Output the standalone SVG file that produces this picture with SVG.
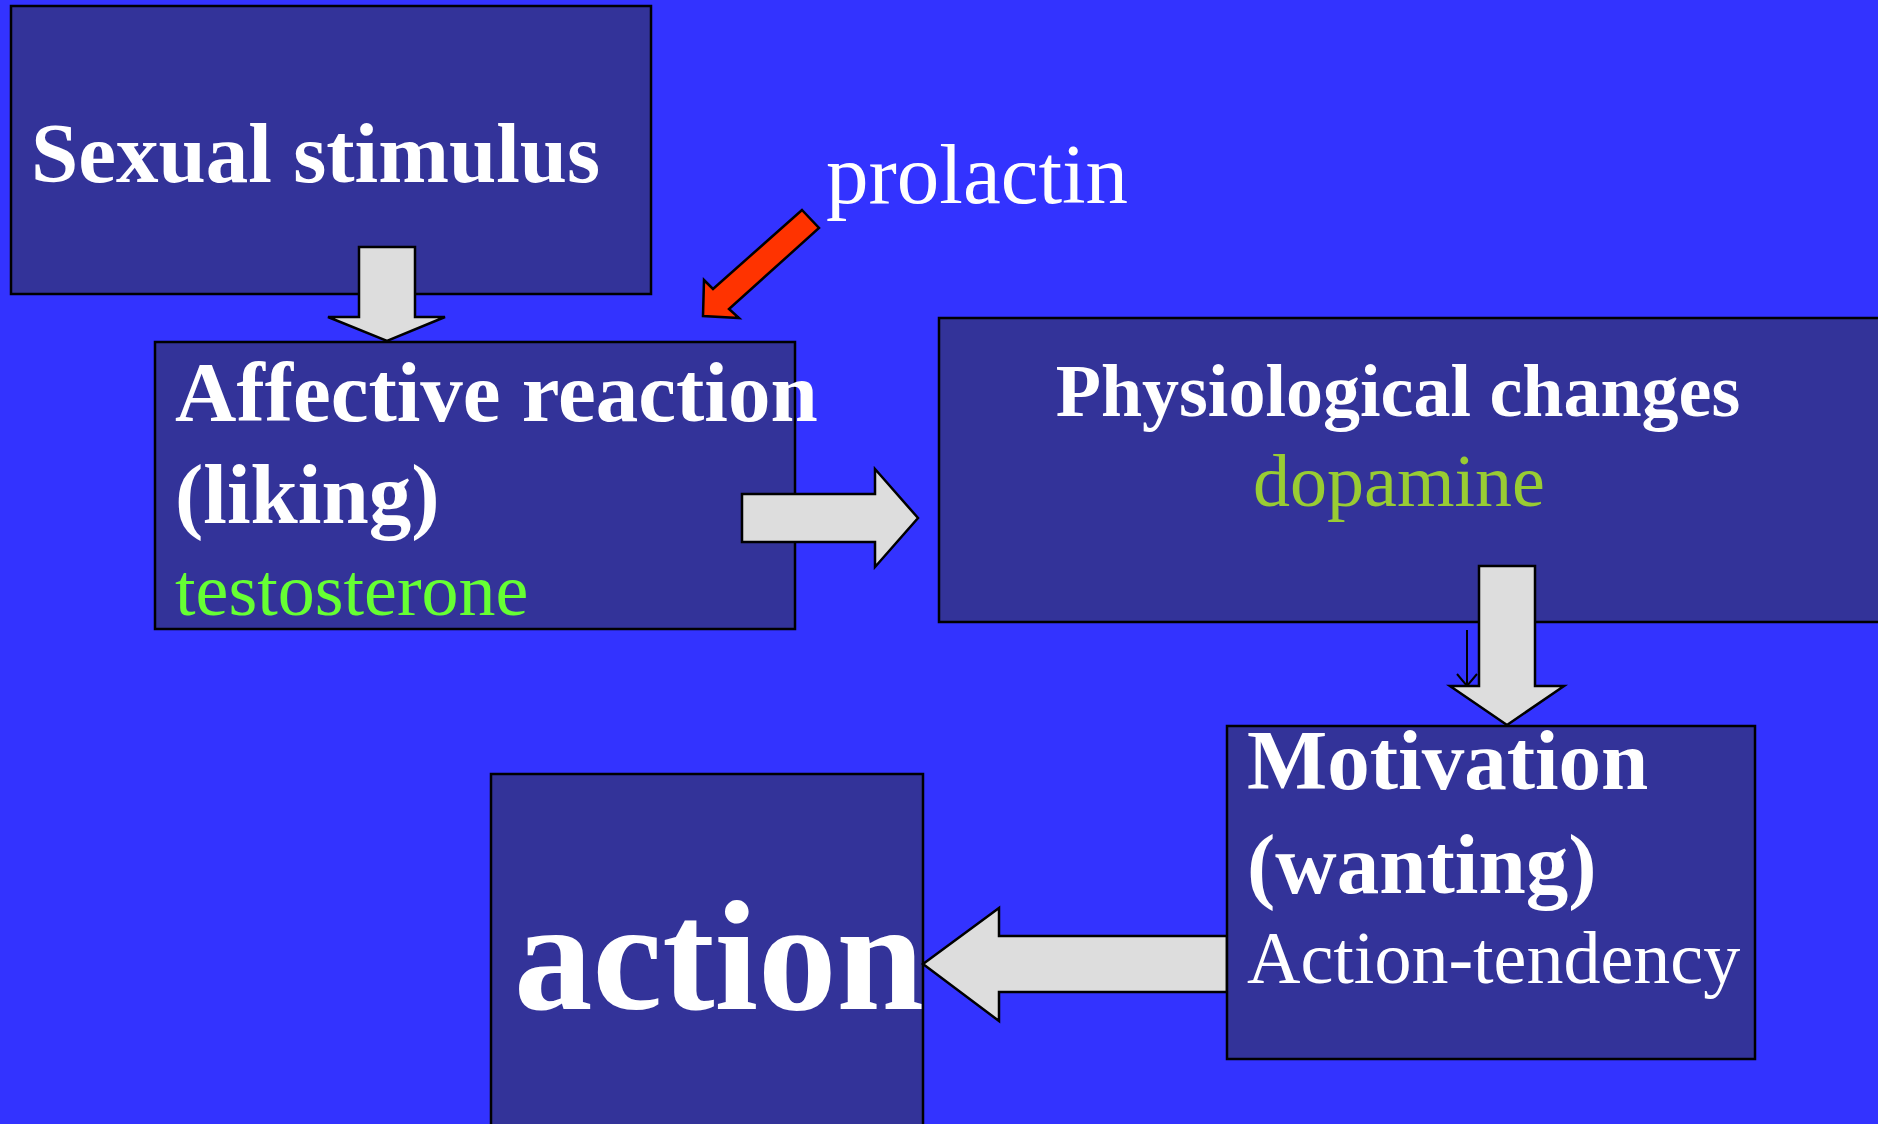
<svg xmlns="http://www.w3.org/2000/svg" width="1878" height="1124" viewBox="0 0 1878 1124">
  <style>
    .box { fill: #333399; stroke: #000000; stroke-width: 2.5; }
    .t { font-family: "Liberation Serif", "Times New Roman", serif; fill: #ffffff; }
    .b { font-weight: bold; }
    .big { font-size: 85px; }
    .mid { font-size: 74px; }
    .block { fill: #DDDDDD; stroke: #000000; stroke-width: 2.5; stroke-linejoin: miter; }
    .red { fill: #FF3300; stroke: #000000; stroke-width: 2.5; }
    .thin { fill: none; stroke: #000000; stroke-width: 2; }
  </style>
  <rect x="0" y="0" width="1878" height="1124" fill="#3333FF"/>

  <g id="sexual-stimulus">
    <rect class="box" x="11" y="6" width="640" height="288"/>
    <text class="t b big" x="31" y="182">Sexual stimulus</text>
  </g>

  <g id="affective-reaction">
    <rect class="box" x="155" y="342" width="640" height="287"/>
    <text class="t b big" x="175" y="421">Affective reaction</text>
    <text class="t b big" x="175" y="523">(liking)</text>
    <text class="t mid" x="175" y="615" style="fill:#66FF33">testosterone</text>
  </g>

  <g id="physiological-changes">
    <rect class="box" x="939" y="318" width="960" height="304"/>
    <text class="t b mid" x="1398" y="416" text-anchor="middle">Physiological changes</text>
    <text class="t mid" x="1399" y="506" text-anchor="middle" style="fill:#99CC33">dopamine</text>
  </g>

  <g id="action">
    <rect class="box" x="491" y="774" width="432" height="360"/>
    <text class="t b" x="514" y="1009" style="font-size:157px">action</text>
  </g>

  <g id="connectors">
    <polygon class="block" points="359,247 415,247 415,317 445,317 387,341 328,317 359,317"/>
    <polygon class="block" points="742,494 875,494 875,469 918,518 875,567 875,542 742,542"/>
    <line class="thin" x1="1467" y1="630" x2="1467" y2="685"/>
    <polyline class="thin" points="1457,674 1467,686 1477,674"/>
    <polygon class="block" points="1479,566 1535,566 1535,686 1564,686 1507,725 1450,686 1479,686"/>
    <polygon class="block" points="1227,936 999,936 999,908 923,964 999,1021 999,992 1227,992"/>
    <polygon class="red" points="802,210 819,228 729,309 739,318 703,316 704,280 713,289"/>
  </g>

  <g id="motivation">
    <rect class="box" x="1227" y="726" width="528" height="333"/>
    <text class="t b big" x="1247" y="789">Motivation</text>
    <text class="t b big" x="1247" y="893">(wanting)</text>
    <text class="t mid" x="1247" y="983">Action-tendency</text>
  </g>

  <g id="prolactin">
    <text class="t big" x="826" y="203">prolactin</text>
  </g>
</svg>
